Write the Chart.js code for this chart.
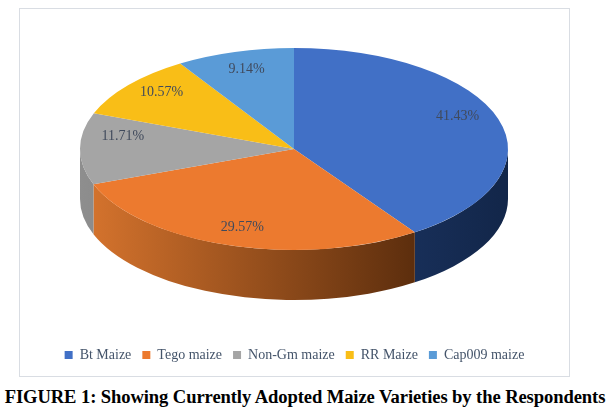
<!DOCTYPE html>
<html>
<head>
<meta charset="utf-8">
<script src="https://cdn.jsdelivr.net/npm/chart.js@4.4.1/dist/chart.umd.min.js"></script>
<style>
  body { margin: 0; background: #fff; width: 610px; height: 418px; overflow: hidden; }
  #frame { position: absolute; left: 19px; top: 8px; width: 549px; height: 367px; border: 1px solid #d9dde3; }
  #caption { position: absolute; left: 0; top: 386px; width: 610px; text-align: center;
    font: bold 18.6px "Liberation Serif", serif; color: #000; white-space: nowrap; letter-spacing: -0.1px; }
</style>
</head>
<body>
<div id="frame"><canvas id="maizeChart"></canvas></div>
<div id="caption">FIGURE 1: Showing Currently Adopted Maize Varieties by the Respondents</div>

<script>
const varieties = ["Bt Maize", "Tego maize", "Non-Gm maize", "RR Maize", "Cap009 maize"];
const shares = [41.43, 29.57, 11.71, 10.57, 9.14];
const shareLabels = ["41.43%", "29.57%", "11.71%", "10.57%", "9.14%"];

const topColors = ["#4170c6", "#ec7a2f", "#a5a5a5", "#f9be17", "#5a9bd7"];
// side colours, left -> right
const sideColors = [
  ["#2c4d8f", "#122649"],
  ["#d8752e", "#3a1a04"],
  ["#8e8e8e", "#505050"],
  ["#d9a514", "#7a5c08"],
  ["#4a86bd", "#234a70"],
];

// where the tilted pie sits on the canvas
const CX = 274, CY = 140, RX = 214, RY = 101, DEPTH = 50;

// fake 3d: draw the side walls, then squash the library's arcs into an ellipse
const pie3d = {
  id: "pie3d",
  beforeDatasetsDraw(chart) {
    const ctx = chart.ctx;
    const arcs = chart.getDatasetMeta(0).data;
    arcs.forEach((arc, i) => {
      const a1 = Math.max(arc.startAngle, 0);
      const a2 = Math.min(arc.endAngle, Math.PI);
      if (a2 <= a1) return;
      ctx.beginPath();
      ctx.ellipse(CX, CY, RX, RY, 0, a1, a2);
      ctx.ellipse(CX, CY + DEPTH, RX, RY, 0, a2, a1, true);
      ctx.closePath();
      const g = ctx.createLinearGradient(CX - RX, 0, CX + RX, 0);
      g.addColorStop(0, sideColors[i][0]);
      g.addColorStop(1, sideColors[i][1]);
      ctx.fillStyle = g;
      ctx.fill();
    });

    const { x, y, outerRadius } = arcs[0];
    ctx.save();
    ctx.translate(CX, CY);
    ctx.scale(RX / outerRadius, RY / outerRadius);
    ctx.translate(-x, -y);
  },
  afterDatasetsDraw(chart) {
    const ctx = chart.ctx;
    ctx.restore();

    // percentage labels inside the slices
    const arcs = chart.getDatasetMeta(0).data;
    ctx.save();
    ctx.font = '14px "Liberation Serif", serif';
    ctx.fillStyle = "#404a5c";
    ctx.textAlign = "center";
    ctx.textBaseline = "middle";
    arcs.forEach((arc, i) => {
      const mid = (arc.startAngle + arc.endAngle) / 2;
      const s = Math.sin(mid);
      const lx = CX + RX * 0.8 * Math.cos(mid);
      const ly = CY - 12 + 0.78 * s * RY * (s < 0 ? 0.9 : 1.2);
      ctx.fillText(shareLabels[i], lx, ly);
    });
    ctx.restore();
  },
};

const ctx = document.getElementById("maizeChart");

new Chart(ctx, {
  type: "pie",
  data: {
    labels: varieties,
    datasets: [
      {
        data: shares,
        backgroundColor: topColors,
        borderWidth: 0,
        hoverOffset: 0,
      },
    ],
  },
  options: {
    responsive: true,
    maintainAspectRatio: false,
    animation: false,
    layout: { padding: { top: 10, bottom: 4 } },
    plugins: {
      legend: {
        position: "bottom",
        labels: {
          boxWidth: 8,
          boxHeight: 8,
          padding: 11,
          color: "#44546a",
          font: { family: '"Liberation Serif", serif', size: 14 },
        },
      },
      tooltip: { enabled: false },
    },
  },
  plugins: [pie3d],
});
</script>
</body>
</html>
